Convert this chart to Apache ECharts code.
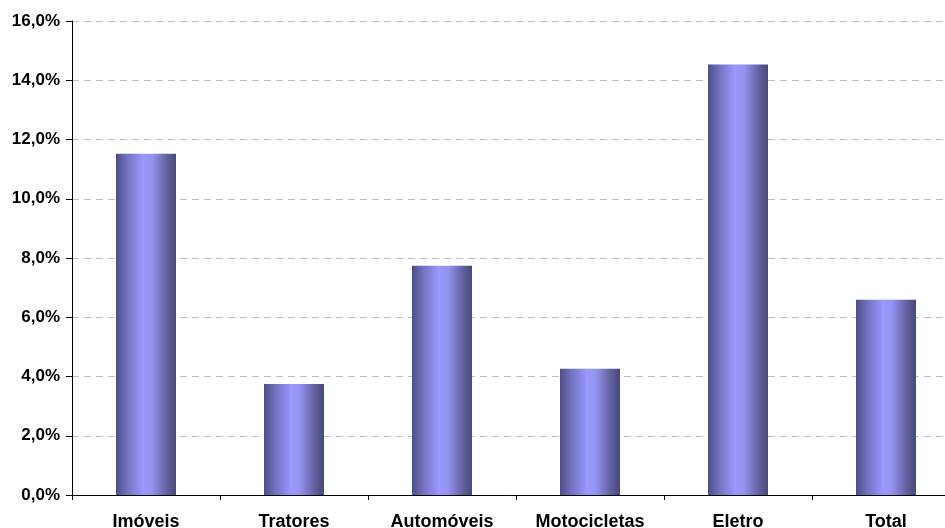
<!DOCTYPE html>
<html>
<head>
<meta charset="utf-8">
<script src="https://cdn.jsdelivr.net/npm/echarts@6/dist/echarts.min.js"></script>
<style>html,body{margin:0;padding:0;background:#fff}#c{width:945px;height:528px}</style>
</head>
<body>
<div id="c"></div>
<script>
var categories = ['Imóveis', 'Tratores', 'Automóveis', 'Motocicletas', 'Eletro', 'Total'];
var values = [11.52, 3.75, 7.74, 4.26, 14.53, 6.59];

var chart = echarts.init(document.getElementById('c'), null, {renderer: 'canvas'});
chart.setOption({
  animation: false,
  backgroundColor: '#ffffff',
  grid: {left: 72, width: 888, top: 21, height: 474, containLabel: false, outerBoundsMode: 'none'},
  xAxis: {
    type: 'category',
    data: categories,
    boundaryGap: true,
    axisLine: {show: true, lineStyle: {color: '#000', width: 1}},
    axisTick: {show: true, length: 5, inside: false, alignWithLabel: false, lineStyle: {color: '#000'}},
    axisLabel: {color: '#000', fontFamily: 'Liberation Sans, Arial, sans-serif', fontWeight: 'bold', fontSize: 18, margin: 18, interval: 0},
    splitLine: {show: false}
  },
  yAxis: {
    type: 'value',
    min: 0, max: 16, interval: 2,
    axisLine: {show: true, lineStyle: {color: '#000', width: 1}},
    axisTick: {show: true, length: 6, lineStyle: {color: '#000'}},
    axisLabel: {
      color: '#000', fontFamily: 'Liberation Sans, Arial, sans-serif', fontWeight: 'bold', fontSize: 17, margin: 12,
      formatter: function (v) { return v.toFixed(1).replace('.', ',') + '%'; }
    },
    splitLine: {show: true, lineStyle: {color: '#c0c0c0', type: [7, 5], width: 1}}
  },
  series: [{
    type: 'bar',
    data: values,
    barWidth: 60,
    itemStyle: {
      color: new echarts.graphic.LinearGradient(0, 0, 1, 0, [
        {offset: 0, color: '#4e4e86'},
        {offset: 0.2, color: '#7474c2'},
        {offset: 0.45, color: '#9999ff'},
        {offset: 0.6, color: '#9393f2'},
        {offset: 0.85, color: '#60609e'},
        {offset: 1, color: '#48487a'}
      ])
    }
  }]
});
</script>
</body>
</html>
